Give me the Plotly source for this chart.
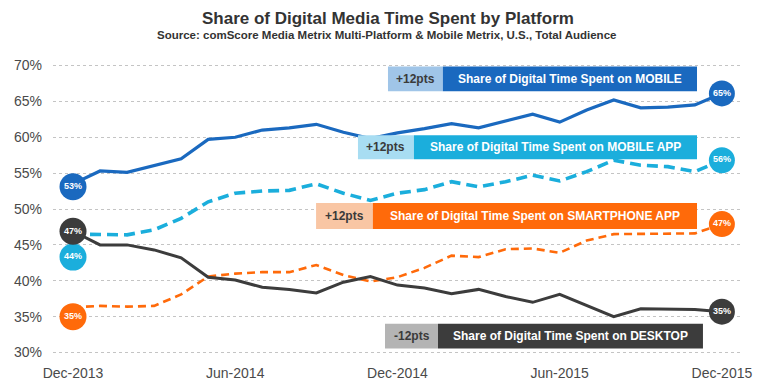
import plotly.graph_objects as go

# ---- data ----
months = ["Dec-2013", "Jan-2014", "Feb-2014", "Mar-2014", "Apr-2014", "May-2014", "Jun-2014",
          "Jul-2014", "Aug-2014", "Sep-2014", "Oct-2014", "Nov-2014", "Dec-2014",
          "Jan-2015", "Feb-2015", "Mar-2015", "Apr-2015", "May-2015", "Jun-2015",
          "Jul-2015", "Aug-2015", "Sep-2015", "Oct-2015", "Nov-2015", "Dec-2015"]
tick_labels = ["Dec-2013", "Jun-2014", "Dec-2014", "Jun-2015", "Dec-2015"]

mobile = [53.5, 55.3, 55.1, 56.1, 57.0, 59.7, 60.0, 61.0, 61.3, 61.8, 60.7, 59.8, 60.6,
          61.2, 61.9, 61.3, 62.3, 63.2, 62.1, 63.8, 65.2, 64.1, 64.2, 64.5, 66.1]
mobile_app = [46.5, 46.5, 46.4, 47.1, 48.7, 51.0, 52.2, 52.5, 52.6, 53.5, 52.2, 51.2, 52.2,
              52.7, 53.8, 53.1, 53.8, 54.7, 53.9, 55.2, 56.8, 56.1, 55.9, 55.2, 56.8]
smartphone_app = [36.3, 36.5, 36.4, 36.5, 38.1, 40.6, 41.0, 41.2, 41.2, 42.2, 40.8, 39.9, 40.5,
                  41.8, 43.5, 43.3, 44.4, 44.5, 43.9, 45.6, 46.5, 46.5, 46.5, 46.6, 47.9]
desktop = [46.9, 45.0, 45.0, 44.3, 43.2, 40.5, 40.1, 39.1, 38.8, 38.3, 39.8, 40.6, 39.4,
           39.0, 38.2, 38.8, 37.8, 37.0, 38.1, 36.5, 35.0, 36.1, 36.1, 36.0, 35.7]

series_names = ["MOBILE", "MOBILE APP", "SMARTPHONE APP", "DESKTOP"]
series_values = [mobile, mobile_app, smartphone_app, desktop]
change_labels = ["+12pts", "+12pts", "+12pts", "-12pts"]
start_badge_pos = [53.1, 43.3, 35.0, 46.9]
start_badge_text = ["53%", "44%", "35%", "47%"]
end_badge_pos = [66.1, 56.8, 47.9, 35.7]
end_badge_text = ["65%", "56%", "47%", "35%"]

# ---- styles ----
dark_cols = ["#1A69BF", "#1BAEDC", "#FF6A0A", "#3C3C3C"]
light_cols = ["#A0C5E8", "#A8DDF2", "#F9C6A4", "#B4B4B4"]
dashes = ["solid", "11px,6px", "8px,5px", "solid"]
widths = [3.2, 3.6, 2.6, 3.0]
# legend box geometry in data units: (x_left, x_split, x_right, y_top, y_bottom)
boxes = [(11.65, 13.68, 23.08, 69.86, 66.39),
         (10.54, 12.61, 23.08, 60.28, 56.94),
         (8.99, 11.09, 23.08, 50.83, 47.22),
         (11.54, 13.50, 23.30, 34.03, 30.56)]

FONT = "Liberation Sans, Arial, sans-serif"
x = list(range(len(months)))

fig = go.Figure()
for name, vals, col, dsh, w in zip(series_names, series_values, dark_cols, dashes, widths):
    fig.add_trace(go.Scatter(x=x, y=vals, mode="lines", name=name,
                             line=dict(color=col, width=w, dash=dsh), hoverinfo="skip"))

for i in [0, 2, 1, 3]:
    fig.add_trace(go.Scatter(x=[0], y=[start_badge_pos[i]], mode="markers+text",
                             marker=dict(size=27, color=dark_cols[i]),
                             text=[start_badge_text[i]], textposition="middle center",
                             textfont=dict(family=FONT, size=9, color="white", weight="bold"),
                             showlegend=False, hoverinfo="skip"))
    fig.add_trace(go.Scatter(x=[len(months) - 1], y=[end_badge_pos[i]], mode="markers+text",
                             marker=dict(size=26, color=dark_cols[i]),
                             text=[end_badge_text[i]], textposition="middle center",
                             textfont=dict(family=FONT, size=9, color="white", weight="bold"),
                             showlegend=False, hoverinfo="skip"))

shapes = []
annotations = []
for name, chg, (xl, xs, xr, yt, yb), dc, lc in zip(series_names, change_labels, boxes, dark_cols, light_cols):
    shapes.append(dict(type="rect", xref="x", yref="y", x0=xl, x1=xs, y0=yb, y1=yt,
                       fillcolor=lc, line=dict(width=0), layer="above"))
    shapes.append(dict(type="rect", xref="x", yref="y", x0=xs, x1=xr, y0=yb, y1=yt,
                       fillcolor=dc, line=dict(width=0), layer="above"))
    annotations.append(dict(x=(xl + xs) / 2, y=(yt + yb) / 2, xref="x", yref="y", text=chg,
                            showarrow=False, font=dict(family=FONT, size=12, color="#3A3A3A", weight="bold")))
    annotations.append(dict(x=(xs + xr) / 2, y=(yt + yb) / 2, xref="x", yref="y",
                            text="Share of Digital Time Spent on " + name,
                            showarrow=False, font=dict(family=FONT, size=12, color="white", weight="bold")))

annotations.append(dict(x=0.4876, y=1.157, xref="paper", yref="paper", xanchor="center", yanchor="middle",
                        text="Share of Digital Media Time Spent by Platform", showarrow=False,
                        font=dict(family=FONT, size=17, color="#333333", weight="bold")))
annotations.append(dict(x=0.486, y=1.100, xref="paper", yref="paper", xanchor="center", yanchor="middle",
                        text="Source: comScore Media Metrix Multi-Platform & Mobile Metrix, U.S., Total Audience",
                        showarrow=False, font=dict(family=FONT, size=11.5, color="#333333", weight="bold")))

fig.update_layout(
    width=760, height=375,
    margin=dict(l=45, r=28, t=56, b=29),
    paper_bgcolor="white", plot_bgcolor="white",
    showlegend=False,
    shapes=shapes, annotations=annotations,
    xaxis=dict(range=[-0.74, 24.67], tickvals=[months.index(t) for t in tick_labels],
               ticktext=tick_labels, showgrid=False, zeroline=False, showline=False,
               automargin=False,
               tickfont=dict(family=FONT, size=14, color="#4A4A4A"), ticklabelstandoff=9),
    yaxis=dict(range=[29.8, 70.2], tickvals=[30, 35, 40, 45, 50, 55, 60, 65, 70],
               ticktext=[f"{v}%" for v in [30, 35, 40, 45, 50, 55, 60, 65, 70]],
               showgrid=True, gridcolor="#C4C4C4", griddash="dot", gridwidth=1,
               zeroline=False, showline=False, automargin=False,
               tickfont=dict(family=FONT, size=14, color="#4A4A4A"), ticklabelstandoff=10),
)

fig.write_html("out.html")
